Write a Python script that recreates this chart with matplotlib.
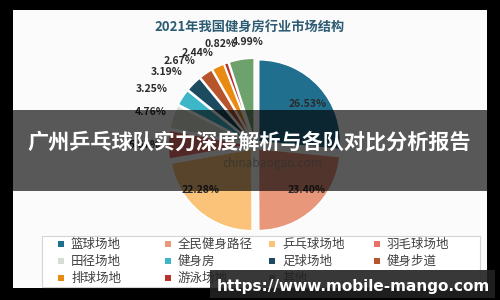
import numpy as np
import matplotlib
matplotlib.use("Agg")
import matplotlib.pyplot as plt
from matplotlib.patches import Rectangle

plt.rcParams['font.family'] = ['Noto Sans CJK SC', 'DejaVu Sans']

# 数据
categories = ["篮球场地", "全民健身路径", "乒乓球场地", "羽毛球场地", "田径场地", "健身房",
              "足球场地", "健身步道", "排球场地", "游泳场地", "其他"]
shares = [26.53, 23.40, 22.28, 5.67, 4.76, 3.25, 3.19, 2.67, 2.44, 0.82, 4.99]
colors = ["#216f8e", "#e8977b", "#fbc37a", "#e9736a", "#d6ddd2", "#3db6c7",
          "#1c4a5f", "#b8542b", "#e98b12", "#b9322b", "#6ea26c"]
chart_title = "2021年我国健身房行业市场结构"
banner_text = "广州乒乓球队实力深度解析与各队对比分析报告"
url_text = "https://www.mobile-mango.com"

# 百分比标签位置（角度, 半径）
label_polar = [(38, 0.82), (-41, 0.84), (-140, 0.86), (180, 1.35), (162.6, 1.34),
               (151.5, 1.43), (140.6, 1.40), (131.8, 1.38), (121.8, 1.32),
               (109.1, 1.30), (93.9, 1.26)]

W, H = 500, 300
fig = plt.figure(figsize=(5, 3), dpi=100, facecolor="black")

def fx(px):
    return px / W

def fy(py):
    return 1 - py / H

# 白色卡片
fig.patches.append(Rectangle((fx(13), fy(288)), fx(474), 278 / H, transform=fig.transFigure,
                             facecolor="#fbfbfb", edgecolor="none", zorder=-1))

fig.text(fx(250), fy(27), chart_title, ha="center", va="center", fontsize=9.5,
         fontweight="bold", color="#2d5b73")

# 饼图
cx, cy, size = 255, 145, 200
ax = fig.add_axes([fx(cx - size / 2), fy(cy + size / 2), fx(size), size / H])
ax.set_aspect("equal")
wedges, _ = ax.pie(shares, colors=colors, startangle=90, counterclock=False,
                   explode=[0.06] * len(shares),
                   wedgeprops=dict(edgecolor="white", linewidth=1.2))
ax.set_xlim(-1.22, 1.22)
ax.set_ylim(-1.22, 1.22)
ax.axis("off")

for v, (a, r) in zip(shares, label_polar):
    t = np.deg2rad(a)
    ax.text(r * np.cos(t), r * np.sin(t), f"{v:.2f}%", ha="center", va="center",
            fontsize=7.5, fontweight="bold", color="#2a2a2a", clip_on=False)

fig.text(fx(272), fy(163), "chinabaogao.com", ha="center", va="center", fontsize=8.5,
         color="#8a8a8a", alpha=0.7)

# 图例（手动，按行排列）
fig.patches.append(Rectangle((fx(42), fy(287)), fx(438), 51 / H, transform=fig.transFigure,
                             facecolor="white", edgecolor="#d4d4d4", linewidth=0.8, zorder=1))
col_x = [61, 168, 272, 377]
row_y = [244, 261, 278]
for i, (name, c) in enumerate(zip(categories, colors)):
    px, py = col_x[i % 4], row_y[i // 4]
    fig.patches.append(Rectangle((fx(px - 3), fy(py + 3)), fx(6), 6 / H,
                                 transform=fig.transFigure, facecolor=c,
                                 edgecolor="none", zorder=2))
    fig.text(fx(px + 10), fy(py), name, ha="left", va="center", fontsize=9,
             color="#404040", zorder=2)

# 中间标题横幅
fig.patches.append(Rectangle((fx(13), fy(191)), fx(474), 81 / H, transform=fig.transFigure,
                             facecolor="black", alpha=0.65, edgecolor="none", zorder=10))
fig.text(fx(249), fy(142), banner_text, ha="center", va="center", fontsize=15.2,
         fontweight="bold", color="white", zorder=11)

# 右下角网址
fig.patches.append(Rectangle((fx(210), fy(298)), fx(285), 28 / H, transform=fig.transFigure,
                             facecolor="#222222", alpha=0.9, edgecolor="none", zorder=10))
fig.text(fx(490), fy(287), url_text, ha="right", va="center", fontsize=11,
         fontweight="bold", color="white", family="DejaVu Sans", zorder=11)

fig.savefig("out.png", dpi=100, facecolor="black")
